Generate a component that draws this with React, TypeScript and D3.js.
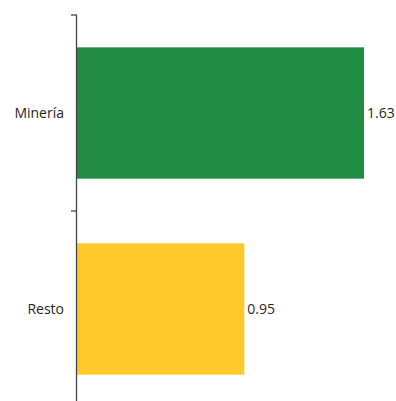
import React from "react";
import * as d3 from "d3";

const categories = ["Minería", "Resto"];
const values = [1.63, 0.95];
const colors = ["#218A43", "#FFC92B"];

export default function App() {
  const W = 396, H = 401;
  const x0 = 77;
  const x = d3.scaleLinear().domain([0, 1.8]).range([x0, 394]);
  const y = d3.scaleBand().domain(categories).range([15, 407]).paddingInner(0.33).paddingOuter(0.165);
  const bandStep = y.step();
  const font = "'Open Sans', sans-serif";
  return (
    <svg width={W} height={H} style={{ position: "absolute", left: 0, top: 0, background: "#fff" }}>
      {categories.map((c, i) => (
        <g key={c}>
          <rect x={x(0)} y={y(c)!} width={x(values[i]) - x(0)} height={y.bandwidth()} fill={colors[i]} />
          <text x={x(values[i]) + 3} y={y(c)! + y.bandwidth() / 2} dy="0.35em" fontSize={14} fill="#262626" fontFamily={font}>
            {values[i].toFixed(2)}
          </text>
          <text x={64} y={y(c)! + y.bandwidth() / 2} dy="0.35em" textAnchor="end" fontSize={14} fill="#262626" fontFamily={font}>
            {c}
          </text>
        </g>
      ))}
      <line x1={x0 - 0.5} x2={x0 - 0.5} y1={15} y2={H + 10} stroke="#444" strokeWidth={1.3} />
      {[0, 1, 2].map((k) => {
        const yy = 15 + k * bandStep;
        return <line key={k} x1={71} x2={x0} y1={yy} y2={yy} stroke="#444" strokeWidth={1.3} />;
      })}
    </svg>
  );
}
